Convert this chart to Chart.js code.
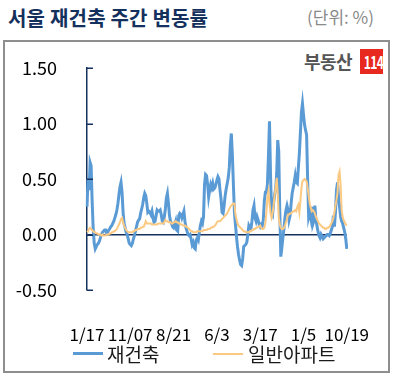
<!DOCTYPE html>
<html>
<head>
<meta charset="utf-8">
<script src="https://cdn.jsdelivr.net/npm/chart.js@4"></script>
<style>
  html, body { margin:0; padding:0; background:#fff; }
  body { width:395px; height:379px; position:relative; overflow:hidden; font-family:'Noto Sans CJK KR','Noto Sans',sans-serif; }
  #frame { position:absolute; left:3px; top:40px; width:387px; height:333px; box-sizing:border-box; border:2px solid #8e8e8e; }
  #title { position:absolute; left:8px; top:3px; font-size:20px; font-weight:700; color:#14305c; letter-spacing:0.2px; white-space:nowrap; }
  #unit { position:absolute; left:307px; top:4px; font-size:17px; color:#8a8a8a; white-space:nowrap; }
  #logo { position:absolute; left:304px; top:47px; height:27px; white-space:nowrap; }
  #logo .txt { position:absolute; left:0; top:1px; font-size:18px; font-weight:700; color:#555; letter-spacing:-0.5px; }
  #logo .box { position:absolute; left:56px; top:2px; width:23px; height:25px; background:#e8291f; color:#fff; font-size:17px; font-weight:700; text-align:center; line-height:25px; }
  #logo .box span { display:inline-block; transform:scaleX(0.72); letter-spacing:-1px; }
  canvas { position:absolute; left:0; top:0; }
  .leg { position:absolute; top:340px; font-size:19px; color:#1a1a1a; white-space:nowrap; }
  .leg i { position:absolute; top:12px; width:30px; }
</style>
</head>
<body>
<div id="frame"></div>
<div id="title">서울 재건축 주간 변동률</div>
<div id="unit">(단위: %)</div>
<div id="logo"><span class="txt">부동산</span><span class="box"><span>114</span></span></div>
<canvas id="c" width="395" height="379"></canvas>
<div class="leg" style="left:73px;"><i style="left:0;height:3px;background:#5b9bd5;"></i><span style="margin-left:34px;">재건축</span></div>
<div class="leg" style="left:213px;"><i style="left:0;height:2px;top:12.5px;background:#fbc982;"></i><span style="margin-left:35px;">일반아파트</span></div>
<script>
// Weekly change rate (%), weekly from 2014-01-17 to 2018-10-19
const seriesNames = ['재건축', '일반아파트'];
const tickLabels = ['1/17', '11/07', '8/21', '6/3', '3/17', '1/5', '10/19'];
const tickEvery = 42;

const reconstruction = [
 0.25,0.50,0.40,0.65,0.62,0.30,0.05,-0.08,-0.13,-0.11,
 -0.09,-0.08,-0.06,-0.03,0.00,0.02,0.03,0.04,0.04,0.01,
 0.02,0.04,0.05,0.07,0.08,0.10,0.12,0.15,0.18,0.22,
 0.28,0.36,0.43,0.47,0.38,0.20,0.10,0.06,0.02,0.00,
 -0.04,-0.08,-0.09,-0.10,-0.08,-0.04,-0.01,0.03,0.07,0.11,
 0.13,0.14,0.19,0.23,0.27,0.33,0.37,0.35,0.28,0.20,
 0.21,0.20,0.18,0.21,0.15,0.11,0.12,0.17,0.22,0.21,
 0.21,0.22,0.18,0.12,0.11,0.16,0.23,0.33,0.37,0.28,
 0.17,0.12,0.10,0.07,0.06,0.09,0.12,0.04,0.03,0.17,
 0.19,0.18,0.15,0.18,0.21,0.12,0.06,0.03,0.00,-0.01,
 0.00,-0.04,-0.09,-0.07,-0.12,-0.13,-0.05,-0.03,-0.05,0.02,
 0.08,0.12,0.10,0.16,0.45,0.54,0.53,0.45,0.34,0.40,
 0.45,0.42,0.46,0.41,0.42,0.45,0.49,0.52,0.50,0.40,
 0.32,0.20,0.19,0.26,0.35,0.41,0.46,0.51,0.60,0.80,
 0.91,0.72,0.45,0.20,0.09,-0.02,-0.11,-0.18,-0.23,-0.27,
 -0.28,-0.22,-0.11,-0.10,-0.09,-0.07,0.00,0.08,0.06,0.05,
 0.12,0.22,0.26,0.15,0.12,0.16,0.13,0.09,0.07,0.09,
 0.08,0.13,0.30,0.38,0.38,0.45,0.71,1.02,0.55,0.20,
 0.18,0.28,0.36,0.41,0.55,0.85,0.75,0.20,-0.20,-0.12,
 -0.03,0.05,0.15,0.22,0.26,0.22,0.13,0.17,0.28,0.37,
 0.42,0.47,0.53,0.47,0.46,0.60,0.73,0.92,1.10,1.18,
 1.08,0.99,0.94,0.90,0.50,0.16,0.20,0.15,0.25,0.09,
 0.12,0.26,0.14,0.08,0.03,-0.01,-0.03,0.00,-0.02,-0.04,
 -0.03,-0.02,-0.01,0.00,0.00,-0.01,0.01,0.04,0.07,0.17,
 0.07,0.20,0.40,0.47,0.33,0.25,0.16,0.12,0.10,0.06,
 0.02,-0.04,-0.13
];

const general = [
 0.02,0.03,0.05,0.06,0.05,0.04,0.03,0.02,0.02,0.01,
 0.01,0.00,0.00,0.00,-0.01,0.00,-0.01,-0.01,-0.01,0.00,
 0.00,0.00,0.01,0.01,0.02,0.02,0.03,0.03,0.04,0.05,
 0.07,0.09,0.11,0.14,0.15,0.11,0.08,0.06,0.04,0.03,
 0.02,0.02,0.02,0.02,0.02,0.03,0.03,0.04,0.04,0.05,
 0.05,0.05,0.06,0.06,0.07,0.07,0.09,0.12,0.10,0.10,
 0.10,0.10,0.10,0.09,0.09,0.09,0.09,0.09,0.09,0.10,
 0.10,0.10,0.10,0.10,0.10,0.11,0.13,0.12,0.12,0.11,
 0.11,0.11,0.10,0.10,0.11,0.11,0.12,0.11,0.11,0.10,
 0.10,0.09,0.09,0.08,0.08,0.08,0.07,0.07,0.06,0.05,
 0.04,0.03,0.03,0.02,0.02,0.02,0.02,0.03,0.03,0.03,
 0.03,0.03,0.03,0.04,0.04,0.04,0.04,0.05,0.05,0.05,
 0.06,0.06,0.07,0.07,0.08,0.09,0.11,0.12,0.12,0.12,
 0.13,0.14,0.15,0.16,0.17,0.18,0.19,0.21,0.23,0.25,
 0.26,0.27,0.28,0.28,0.18,0.14,0.10,0.08,0.07,0.06,
 0.05,0.04,0.03,0.03,0.02,0.02,0.02,0.02,0.03,0.03,
 0.04,0.04,0.05,0.05,0.06,0.06,0.07,0.07,0.08,0.06,
 0.05,0.05,0.06,0.10,0.20,0.33,0.39,0.28,0.19,0.15,
 0.19,0.26,0.36,0.42,0.51,0.37,0.15,0.09,0.06,0.05,
 0.05,0.06,0.08,0.11,0.14,0.18,0.18,0.19,0.19,0.20,
 0.21,0.21,0.22,0.21,0.25,0.27,0.20,0.30,0.42,0.48,
 0.49,0.50,0.49,0.48,0.42,0.35,0.28,0.24,0.21,0.22,
 0.21,0.19,0.16,0.14,0.12,0.10,0.09,0.08,0.07,0.06,
 0.06,0.05,0.05,0.06,0.06,0.07,0.08,0.10,0.12,0.15,
 0.20,0.26,0.31,0.38,0.54,0.57,0.45,0.22,0.16,0.13,
 0.11,0.09,0.08
];

// weekly category dates
const categories = [];
for (let i = 0; i < reconstruction.length; i++) {
  const d = new Date(2014, 0, 17 + 7 * i);
  categories.push((d.getMonth() + 1) + '/' + d.getDate());
}

const NAVY = '#15325e';
const FONT = "'Noto Sans CJK KR','Noto Sans',sans-serif";

const innerTicks = {
  id: 'innerTicks',
  afterDraw(chart) {
    const y = chart.scales.y, ctx = chart.ctx, x0 = chart.chartArea.left;
    ctx.save();
    ctx.strokeStyle = NAVY;
    ctx.lineWidth = 1.5;
    y.ticks.forEach(t => {
      const p = Math.round(y.getPixelForValue(t.value)) + 0.25;
      ctx.beginPath();
      ctx.moveTo(x0, p);
      ctx.lineTo(x0 + 6, p);
      ctx.stroke();
    });
    ctx.restore();
  }
};

new Chart(document.getElementById('c'), {
  type: 'line',
  data: {
    labels: categories,
    datasets: [
      { label: seriesNames[0], data: reconstruction, borderColor: '#5b9bd5', borderWidth: 3, pointRadius: 0, tension: 0, order: 2 },
      { label: seriesNames[1], data: general, borderColor: '#fbc982', borderWidth: 2, pointRadius: 0, tension: 0, order: 1 }
    ]
  },
  options: {
    responsive: false,
    animation: false,
    devicePixelRatio: 1,
    layout: { padding: { top: 68, right: 39, left: 0, bottom: 0 } },
    plugins: { legend: { display: false }, tooltip: { enabled: false }, title: { display: false } },
    scales: {
      x: {
        type: 'category',
        offset: false,
        grid: { display: false },
        border: { display: false },
        ticks: {
          autoSkip: false, maxRotation: 0, minRotation: 0, padding: 26,
          color: '#000', font: { family: FONT, size: 17 },
          callback: (v, i) => (i % tickEvery === 0 ? tickLabels[i / tickEvery] : null)
        },
        afterFit(s) { s.height = 89; }
      },
      y: {
        min: -0.5, max: 1.5,
        ticks: { stepSize: 0.5, padding: 30, color: '#000', font: { family: FONT, size: 18 }, callback: v => Number(v).toFixed(2) },
        grid: { drawTicks: false, lineWidth: 1.5, color: c => (c.tick && Math.abs(c.tick.value) < 1e-9 ? NAVY : 'rgba(0,0,0,0)') },
        border: { color: NAVY, width: 1.5 },
        afterFit(s) { s.width = 87; }
      }
    }
  },
  plugins: [innerTicks]
});
</script>
</body>
</html>
